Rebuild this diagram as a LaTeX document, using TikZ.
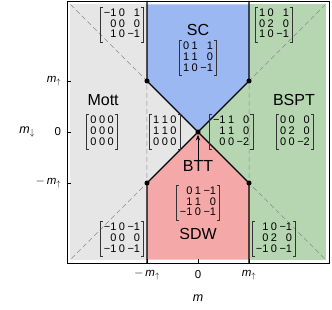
\documentclass[tikz,border=0pt]{standalone}
\usepackage{fontspec}
\setmainfont{Liberation Sans}
\usepackage{tikz}
\usetikzlibrary{arrows.meta,positioning}
\definecolor{motC}{HTML}{E6E6E6}
\definecolor{scC}{HTML}{9BB8F2}
\definecolor{sdwC}{HTML}{F4A8A8}
\definecolor{bsptC}{HTML}{B5D6B1}
\definecolor{guide}{HTML}{8C8C8C}
\definecolor{brkC}{HTML}{333333}
\newcommand{\mtx}[1]{\renewcommand{\arraystretch}{0.78}\begin{tabular}{@{}r@{\hspace{2.5pt}}r@{\hspace{2.5pt}}r@{}}#1\end{tabular}}
\newcommand{\mup}{$\textit{m}_\uparrow$}
\tikzset{
  phase/.style={font=\fontsize{16}{18}\selectfont, inner sep=0pt},
  entries/.style={font=\fontsize{11}{13}\selectfont, inner xsep=3.5pt, inner ysep=1.5pt},
  brk/.style={line width=0.85pt, draw=brkC},
  ticklbl/.style={font=\fontsize{11.5}{13}\selectfont, inner sep=1pt},
  border/.style={line width=1.1pt, draw=black},
  guideline/.style={dash pattern=on 5pt off 3pt, line width=0.5pt, draw=guide},
  dot/.style={circle, fill=black, inner sep=1.8pt},
  arr/.style={-{Stealth[length=2mm]}, thick}
}
\begin{document}
\begin{tikzpicture}[x=51pt, y=51pt]
    \useasboundingbox (-3.882,-3.471) rectangle (2.627,2.588);
    % phase regions
    \fill[motC] (-2.5,-2.5) rectangle (-1,2.5);
    \fill[bsptC] (1,-2.5) rectangle (2.5,2.5);
    \fill[motC] (-1,-1) -- (0,0) -- (-1,1) -- cycle;
    \fill[bsptC] (1,-1) -- (0,0) -- (1,1) -- cycle;
    \fill[scC] (-1,2.5) -- (-1,1) -- (0,0) -- (1,1) -- (1,2.5) -- cycle;
    \fill[sdwC] (-1,-2.5) -- (-1,-1) -- (0,0) -- (1,-1) -- (1,-2.5) -- cycle;
    % guides
    \draw[guideline] (-2.5,2.5) -- (-1,1) -- (-1,-1) -- (-2.5,-2.5);
    \draw[guideline] (2.5,2.5) -- (1,1) -- (1,-1) -- (2.5,-2.5);
    % phase boundaries
    \coordinate (o) at (0,0);
    \node[dot] (ul) at (-1,1) {};
    \node[dot] (ur) at (1,1) {};
    \node[dot] (dl) at (-1,-1) {};
    \node[dot] (dr) at (1,-1) {};
    \node[dot] (c) at (o) {};
    \draw[border] (-1,2.57) -- (ul.center) -- (dr.center) -- (1,-2.57);
    \draw[border] (1,2.57) -- (ur.center) -- (dl.center) -- (-1,-2.57);
    % frame and ticks
    \draw[line width=0.8pt] (-2.57,-2.57) rectangle (2.57,2.57);
    \foreach \t in {-1,0,1} {
      \draw[line width=0.6pt] (\t,-2.57) -- ++(0,0.08);
      \draw[line width=0.6pt] (-2.57,\t) -- ++(0.08,0);
    }
    \node[ticklbl] (xm) at (-1,-2.8) {$-$\,\mup};
    \node[ticklbl] (x0) at (0,-2.8) {0};
    \node[ticklbl] (xp) at (1,-2.8) {\mup};
    \node[ticklbl, anchor=east] (yp) at (-2.66,1) {\mup};
    \node[ticklbl, anchor=east] (y0) at (-2.66,0) {0};
    \node[ticklbl, anchor=east] (ym) at (-2.66,-1) {$-$\,\mup};
    \node[ticklbl, font=\fontsize{12.5}{14}\selectfont] (xlab) at (0,-3.25) {\textit{m}};
    \node[ticklbl, font=\fontsize{12.5}{14}\selectfont] (ylab) at (-3.35,0) {$\textit{m}_\downarrow$};
    % labels
    \node[phase] (sc) at (0,2.0) {SC};
    \node[phase] (mott) at (-1.86,0.63) {Mott};
    \node[phase] (bspt) at (1.88,0.63) {BSPT};
    \node[phase] (btt) at (0,-0.67) {BTT};
    \node[phase] (sdw) at (0,-2.0) {SDW};
    \draw[arr] (btt) -- (c);
    % matrices
    \node[entries] (msc) at (0,1.45) {\mtx{0&1&1\\1&1&0\\1&0&−1}};
    \node[entries] (mmott) at (-1.88,0) {\mtx{0&0&0\\0&0&0\\0&0&0}};
    \node[entries] (mbspt) at (1.9,0) {\mtx{0&0&0\\0&2&0\\0&0&−2}};
    \node[entries] (mml) at (-0.65,0) {\mtx{1&1&0\\1&1&0\\0&0&0}};
    \node[entries] (mmr) at (0.65,0) {\mtx{−1&1&0\\1&1&0\\0&0&−2}};
    \node[entries] (msdw) at (0,-1.39) {\mtx{0&1&−1\\1&1&0\\−1&0&−1}};
    \node[entries] (mtl) at (-1.49,2.1) {\mtx{−1&0&1\\0&0&0\\1&0&−1}};
    \node[entries] (mtr) at (1.49,2.1) {\mtx{1&0&1\\0&2&0\\1&0&−1}};
    \node[entries] (mbl) at (-1.49,-2.1) {\mtx{−1&0&−1\\0&0&0\\−1&0&−1}};
    \node[entries] (mbr) at (1.49,-2.1) {\mtx{1&0&−1\\0&2&0\\−1&0&−1}};
    \foreach \n in {msc,mmott,mbspt,mml,mmr,msdw,mtl,mtr,mbl,mbr} {
      \draw[brk] ([xshift=2.5pt]\n.north west) -| (\n.south west) -- ++(2.5pt,0);
      \draw[brk] ([xshift=-2.5pt]\n.north east) -| (\n.south east) -- ++(-2.5pt,0);
    }
\end{tikzpicture}
\end{document}
